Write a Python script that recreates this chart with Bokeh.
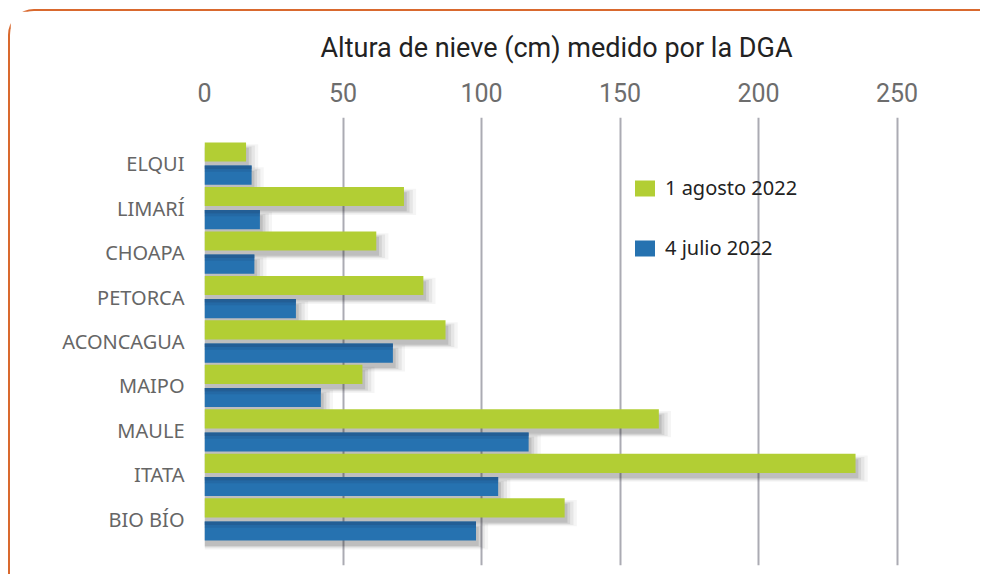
from bokeh.plotting import figure
from bokeh.models import (Range1d, FactorRange, ColumnDataSource, Legend, LegendItem,
                          FixedTicker)
from bokeh.transform import dodge
from bokeh.embed import file_html
from bokeh.resources import INLINE

# ---- data -------------------------------------------------------------
cuencas = ["ELQUI", "LIMARÍ", "CHOAPA", "PETORCA", "ACONCAGUA", "MAIPO", "MAULE", "ITATA", "BIO BÍO"]
agosto_2022 = [15, 72, 62, 79, 87, 57, 164, 235, 130]
julio_2022 = [17, 20, 18, 33, 68, 42, 117, 106, 98]
x_ticks = [0, 50, 100, 150, 200, 250]
series_labels = ["1 agosto 2022", "4 julio 2022"]
title_text = "Altura de nieve (cm) medido por la DGA"

GREEN = "#b2ce34"
BLUE = "#2672b0"
BLUE_DARK = "#22568a"
FONT = "Roboto"

BAR_H = 0.43
OFF = 0.26

src = ColumnDataSource(dict(cuenca=cuencas, agosto=agosto_2022, julio=julio_2022))

p = figure(width=972, height=565,
           y_range=FactorRange(*cuencas[::-1], range_padding=0.535, range_padding_units="absolute"),
           x_range=Range1d(0, 270), x_axis_location="above",
           output_backend="svg", toolbar_location=None,
           min_border_left=194, min_border_right=30, min_border_top=106, min_border_bottom=11)
p.styles = {"border-top": "2px solid #d9692e", "border-left": "2px solid #d9692e",
            "border-top-left-radius": "26px", "margin-left": "8px", "margin-top": "9px"}
p.outline_line_color = None
p.background_fill_color = "white"
p.border_fill_color = "white"

# soft drop shadows (derived from the same values)
for i, (dx, dh, a) in enumerate([(1.0, 0.0, 0.10), (2.0, 0.05, 0.08), (3.2, 0.10, 0.06), (4.4, 0.16, 0.04)]):
    for col, off in (("agosto", OFF), ("julio", -OFF)):
        sh = ColumnDataSource(dict(cuenca=cuencas, right=[v + dx for v in src.data[col]]))
        p.hbar(y=dodge("cuenca", off - 0.12, range=p.y_range), left=0, right="right",
               height=BAR_H + dh, source=sh, fill_color="black", fill_alpha=a, line_color=None)

g = p.hbar(y=dodge("cuenca", OFF, range=p.y_range), left=0, right="agosto", height=BAR_H,
           source=src, fill_color=GREEN, line_color=None)
b = p.hbar(y=dodge("cuenca", -OFF, range=p.y_range), left=0, right="julio", height=BAR_H,
           source=src, fill_color=BLUE, line_color=None)
# darker upper band of the blue bars (gradient look)
p.hbar(y=dodge("cuenca", -OFF + BAR_H / 2 - 0.04, range=p.y_range), left=0, right="julio",
       height=0.08, source=src, fill_color=BLUE_DARK, fill_alpha=0.7, line_color=None)
p.hbar(y=dodge("cuenca", -OFF + BAR_H / 2 - 0.11, range=p.y_range), left=0, right="julio",
       height=0.06, source=src, fill_color=BLUE_DARK, fill_alpha=0.3, line_color=None)

# axes
xa = p.xaxis[0]
xa.ticker = FixedTicker(ticks=x_ticks)
xa.axis_line_color = None
xa.major_tick_line_color = None
xa.minor_tick_line_color = None
xa.major_label_text_font = FONT
xa.major_label_text_font_size = "25px"
xa.major_label_text_color = "#6d6d6d"
xa.major_label_standoff = 10

ya = p.yaxis[0]
ya.axis_line_color = None
ya.major_tick_line_color = None
ya.minor_tick_line_color = None
ya.major_label_text_font = "Noto Sans"
ya.major_label_text_font_size = "20px"
ya.major_label_text_color = "#666666"
ya.major_label_standoff = 14

p.xgrid.ticker = FixedTicker(ticks=x_ticks)
p.xgrid.grid_line_color = "#ababb3"
p.xgrid.grid_line_width = 2
p.ygrid.grid_line_color = None

# title
p.title.text = title_text
p.title.align = "left"
p.title.offset = 116
p.title.text_font = FONT
p.title.text_font_size = "27px"
p.title.text_font_style = "normal"
p.title.text_color = "#222222"
p.title.standoff = 32

legend = Legend(items=[LegendItem(label=series_labels[0], renderers=[g]),
                       LegendItem(label=series_labels[1], renderers=[b])],
                location=(428, 304), orientation="vertical")
legend.padding = 0
legend.margin = 0
legend.spacing = 33
legend.glyph_width = 25
legend.glyph_height = 20
legend.label_height = 20
legend.label_standoff = 8
legend.label_text_font = "Noto Sans"
legend.label_text_font_size = "20px"
legend.label_text_color = "#222222"
legend.background_fill_alpha = 0
legend.border_line_color = None
p.add_layout(legend)

open("out.html", "w").write(file_html(p, INLINE))
